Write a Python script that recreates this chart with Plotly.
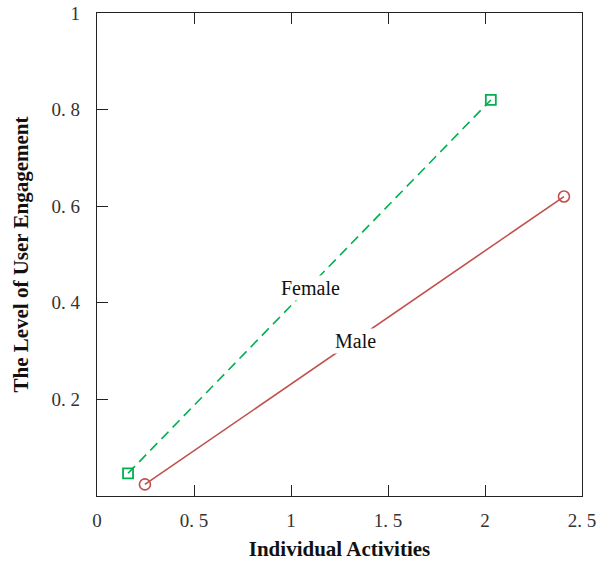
import plotly.graph_objects as go

female_x = [0.16, 2.03]
female_y = [0.047, 0.82]
male_x = [0.247, 2.407]
male_y = [0.024, 0.62]

x_ticks = [0, 0.5, 1, 1.5, 2, 2.5]
x_ticktext = ["0", "0. 5", "1", "1. 5", "2", "2. 5"]
y_ticks = [0.2, 0.4, 0.6, 0.8, 1]
y_ticktext = ["0. 2", "0. 4", "0. 6", "0. 8", "1"]

green = "#00b050"
red = "#c0504d"
serif = "Liberation Serif, DejaVu Serif, serif"

fig = go.Figure()
fig.add_trace(go.Scatter(
    x=female_x, y=female_y, mode="lines+markers", name="Female",
    line=dict(color=green, width=1.6, dash="10px,6px"),
    marker=dict(symbol="square-open", size=10, color=green, line=dict(width=1.8)),
))
fig.add_trace(go.Scatter(
    x=male_x, y=male_y, mode="lines+markers", name="Male",
    line=dict(color=red, width=1.6),
    marker=dict(symbol="circle-open", size=11, color=red, line=dict(width=1.6)),
))

fig.add_annotation(x=1.098, y=0.43, text="Female", showarrow=False,
                   font=dict(family=serif, size=20, color="#111"), bgcolor="white")
fig.add_annotation(x=1.33, y=0.32, text="Male", showarrow=False,
                   font=dict(family=serif, size=20, color="#111"), bgcolor="white")

fig.update_layout(
    width=598, height=561,
    margin=dict(l=97, r=16, t=13, b=65, autoexpand=False),
    plot_bgcolor="white", paper_bgcolor="white",
    showlegend=False,
    font=dict(family=serif, size=19, color="#222"),
)
fig.update_xaxes(
    range=[0, 2.5], tickvals=x_ticks, ticktext=x_ticktext,
    ticks="inside", ticklen=11, tickcolor="#222", tickwidth=1,
    showline=True, linecolor="#222", linewidth=1.2, mirror="ticks",
    showgrid=False, zeroline=False, automargin=False, ticklabelstandoff=7,
    title=dict(text="<b>Individual Activities</b>", font=dict(family=serif, size=21, color="#111"), standoff=13),
    tickfont=dict(family=serif, size=19, color="#333"),
)
fig.update_yaxes(
    range=[0, 1], tickvals=y_ticks, ticktext=y_ticktext,
    ticks="inside", ticklen=11, tickcolor="#222", tickwidth=1,
    showline=True, linecolor="#222", linewidth=1.2, mirror=True,
    showgrid=False, zeroline=False, automargin=False, ticklabelstandoff=12,
    title=dict(text="<b>The Level of User Engagement</b>", font=dict(family=serif, size=21, color="#111"), standoff=17),
    tickfont=dict(family=serif, size=19, color="#333"),
)

fig.write_html("out.html", config={"displayModeBar": False},
               post_script="document.body.style.margin='0';")
